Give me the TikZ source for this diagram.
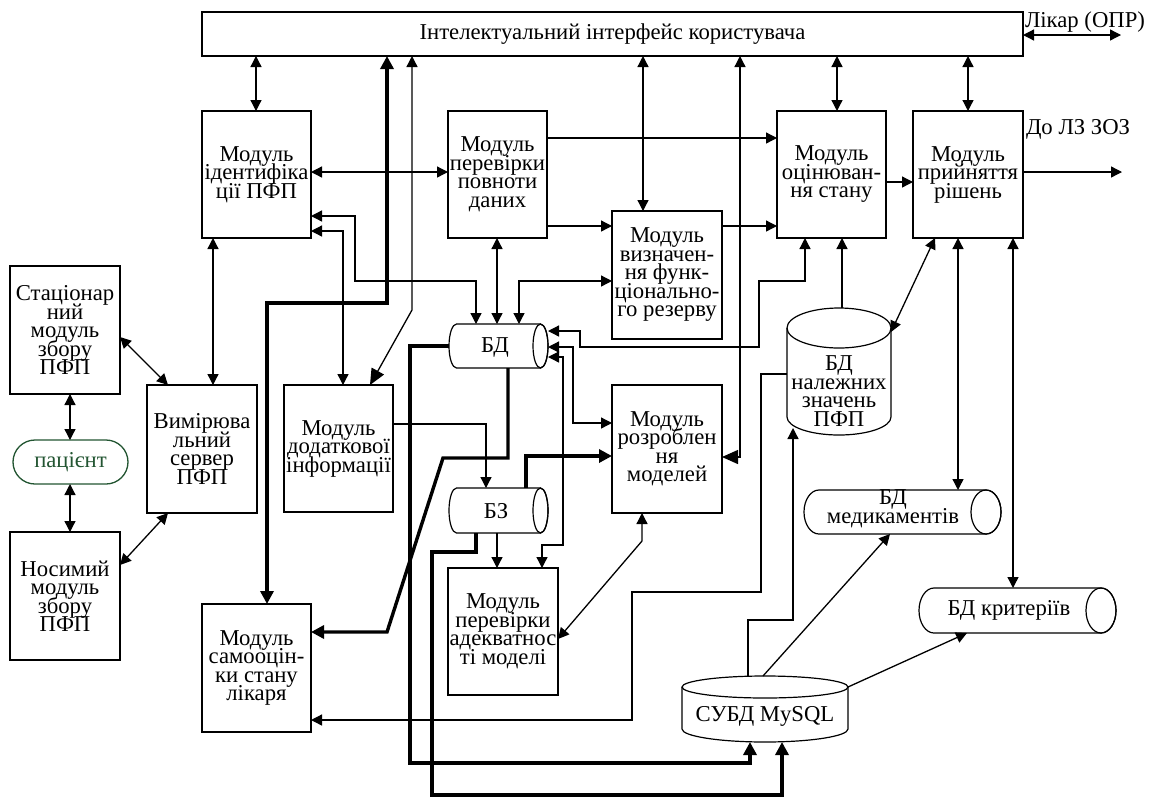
\documentclass[tikz,border=0pt]{standalone}
\usepackage{fontspec}
\setmainfont{Liberation Serif}
\usetikzlibrary{arrows.meta}
\definecolor{pgreen}{RGB}{35,85,50}
\newcommand\dfont{\fontsize{22.7pt}{18.5pt}\selectfont\lineskiplimit=-30pt\lineskip=0pt\relax}
\tikzset{
  box/.style={draw, line width=1.3pt, minimum width=110pt, minimum height=127pt, inner sep=0pt, outer sep=0pt, align=center, font=\dfont},
  shp/.style={draw=none, inner sep=0pt, outer sep=0pt},
  txt/.style={inner sep=0pt, outer sep=0pt, align=center, font=\dfont},
  ln/.style={line width=1.3pt},
  tk/.style={line width=3.4pt},
  cyl/.style={line width=1.2pt},
  arr/.style={-{Triangle[length=11pt,width=11pt]}},
  darr/.style={{Triangle[length=11pt,width=11pt]}-{Triangle[length=11pt,width=11pt]}},
  bigdarr/.style={{Triangle[length=11pt,width=11pt]}-{Triangle[length=16pt,width=14pt]}},
  tarr/.style={-{Triangle[length=13pt,width=13pt]}},
  tdarr/.style={{Triangle[length=13pt,width=13pt]}-{Triangle[length=13pt,width=13pt]}},
}
% horizontal cylinder: node, end radius, half height
\newcommand\hcyl[3]{%
  \draw[cyl] ([xshift=#2pt]#1.north west) -- ([xshift=-#2pt]#1.north east)
    arc[start angle=90,end angle=-90,x radius=#2pt,y radius=#3pt]
    -- ([xshift=#2pt]#1.south west)
    arc[start angle=270,end angle=90,x radius=#2pt,y radius=#3pt] -- cycle;
  \draw[cyl] ([xshift=-#2pt]#1.east) ellipse[x radius=#2pt,y radius=#3pt];}
% vertical cylinder: node, half width, top ry, bottom ry
\newcommand\vcyl[4]{%
  \draw[cyl] ([yshift=-#3pt]#1.north) ellipse[x radius=#2pt,y radius=#3pt];
  \draw[cyl] ([yshift=-#3pt]#1.north west) -- ([yshift=#4pt]#1.south west)
    arc[start angle=180,end angle=360,x radius=#2pt,y radius=#4pt]
    -- ([yshift=-#3pt]#1.north east);}
\begin{document}
\begin{tikzpicture}[x=1pt,y=-1pt]
\fill[white] (0,0) rectangle (1151,796);
\useasboundingbox (0,0) rectangle (1151,796);

% boxes
\node[box, minimum width=821pt, minimum height=44pt] (top) at (612.5,34) {Інтелектуальний інтерфейс користувача};
\node[box, minimum width=109pt] (ident) at (256.5,174.5) {Модуль\\ідентифіка\\ції ПФП};
\node[box, minimum width=99pt] (perev) at (497.5,174.5) {Модуль\\перевірки\\повноти\\даних};
\node[box, minimum height=128pt] (vyzn) at (667,275) {Модуль\\визначен-\\ня функ-\\ціонально-\\го резерву};
\node[box, minimum width=109pt] (otsin) at (831.5,174.5) {Модуль\\оцінюван-\\ня стану};
\node[box] (pryin) at (968,174.5) {Модуль\\прийняття\\рішень};
\node[box, minimum height=128pt] (stats) at (65,330) {Стаціонар\\ний\\модуль\\збору\\ПФП};
\node[box, draw=pgreen, text=pgreen, minimum width=115pt, minimum height=44pt, rounded corners=22pt] (patient) at (70.5,462) {пацієнт};
\node[box, minimum height=128pt] (nosym) at (65,596) {Носимий\\модуль\\збору\\ПФП};
\node[box, minimum height=128pt] (vymir) at (202,449) {Вимірюва\\льний\\сервер\\ПФП};
\node[box, minimum width=109pt] (dodat) at (338.5,448.5) {Модуль\\додаткової\\інформації};
\node[box, minimum width=109pt, minimum height=128pt] (samoots) at (256.5,668) {Модуль\\самооцін-\\ки стану\\лікаря};
\node[box] (adekv) at (503,631.5) {Модуль\\перевірки\\адекватнос\\ті моделі};
\node[box, minimum height=128pt] (rozrob) at (667,449) {Модуль\\розроблен\\ня\\моделей};

% cylinders
\node[shp, minimum width=99pt, minimum height=44pt] (bd) at (498.5,346) {};
\hcyl{bd}{7.5}{22}
\node[txt] (bdt) at (495,347) {БД};
\node[shp, minimum width=99pt, minimum height=45pt] (bz) at (498.5,510.5) {};
\hcyl{bz}{7.5}{22.5}
\node[txt] (bzt) at (496,511) {БЗ};
\node[shp, minimum width=197pt, minimum height=44pt] (bdmed) at (902.5,512) {};
\hcyl{bdmed}{15}{22}
\node[txt] (bdmedt) at (893,509) {БД\\медикаментів};
\node[shp, minimum width=197pt, minimum height=45pt] (bdkryt) at (1017.5,610.5) {};
\hcyl{bdkryt}{15}{22.5}
\node[txt] (bdkrytt) at (1009,610) {БД критеріїв};
\node[shp, minimum width=104pt, minimum height=127pt] (bdnal) at (839,371.5) {};
\vcyl{bdnal}{52}{20}{18}
\node[txt] (bdnalt) at (839,391) {БД\\належних\\значень\\ПФП};
\node[shp, minimum width=166pt, minimum height=66pt] (subd) at (765,709) {};
\vcyl{subd}{83}{11}{13}
\node[txt] (subdt) at (765,716) {СУБД MySQL};

% outside labels
\node[txt, anchor=west] (likart) at (1025,22) {Лікар (ОПР)};
\node[txt, anchor=west] (zozt) at (1026,129) {До ЛЗ ЗОЗ};
\coordinate (likar) at (1121,35);
\coordinate (zoz) at (1122,172);

% connectors
\draw[ln,darr] (256,0 |- top.south) -- (256,0 |- ident.north);
\draw[ln,darr] (643,0 |- top.south) -- (643,0 |- vyzn.north);
\draw[ln,darr] (837,0 |- top.south) -- (837,0 |- otsin.north);
\draw[ln,darr] (968,0 |- top.south) -- (968,0 |- pryin.north);
\draw[ln,bigdarr] (740,0 |- top.south) -- (740,457) -- (rozrob.east |- 0,457);
\draw[tk,tdarr] (387,0 |- top.south) -- (387,303) -- (267,303) -- (267,0 |- samoots.north);
\draw[ln,bigdarr] (412,0 |- top.south) -- (412,310) -- (370,0 |- dodat.north);
\draw[ln,darr] (top.east |- likar) -- (likar);
\draw[ln,darr] (ident.east |- 0,172) -- (perev.west |- 0,172);
\draw[ln,darr] (ident.east |- 0,216) -- (355,216) -- (355,281) -- (476,281) -- (476,0 |- bd.north);
\draw[ln,darr] (ident.east |- 0,231) -- (343,231) -- (343,0 |- dodat.north);
\draw[ln,darr] (213,0 |- ident.south) -- (213,0 |- vymir.north);
\draw[ln,arr] (perev.east |- 0,138) -- (otsin.west |- 0,138);
\draw[ln,arr] (perev.east |- 0,226) -- (vyzn.west |- 0,226);
\draw[ln,darr] (497,0 |- perev.south) -- (497,0 |- bd.north);
\draw[ln,darr] (vyzn.west |- 0,281) -- (519,281) -- (519,0 |- bd.north);
\draw[ln,arr] (vyzn.east |- 0,226) -- (otsin.west |- 0,226);
\draw[ln,arr] (otsin.east |- 0,182) -- (pryin.west |- 0,182);
\draw[ln,arr] (pryin.east |- zoz) -- (zoz);
\draw[ln,darr] (805,0 |- otsin.south) -- (805,281) -- (759,281) -- (759,347) -- (580,347) -- (580,331) -- (bd.east |- 0,331);
\draw[ln,arr] (842,0 |- bdnal.north) -- (842,0 |- otsin.south);
\draw[ln,darr] (bd.east |- 0,347) -- (573,347) -- (573,423) -- (rozrob.west |- 0,423);
\draw[ln,darr] (bd.east |- 0,357) -- (563,357) -- (563,545) -- (542,545) -- (542,0 |- adekv.north);
\draw[tk,tarr] (bd.west) -- (410,346) -- (410,763) -- (750,763) -- (750,0 |- subd.south);
\draw[tk,tarr] (508,0 |- bd.south) -- (508,458) -- (443,458) -- (387,632) -- (samoots.east |- 0,632);
\draw[ln,arr] (dodat.east |- 0,424) -- (486,424) -- (486,0 |- bz.north);
\draw[tk,tarr] (526,0 |- bz.north) -- (526,456) -- (rozrob.west |- 0,456);
\draw[tk,tarr] (476,0 |- bz.south) -- (476,552) -- (432,552) -- (432,795) -- (782,795) -- (782,0 |- subd.south);
\draw[ln,arr] (497,0 |- bz.south) -- (497,0 |- adekv.north);
\draw[ln,darr] (adekv.east |- 0,639) -- (642,541) -- (642,0 |- rozrob.south);
\draw[ln,arr] (bdnal.west |- 0,374) -- (761,374) -- (761,592) -- (632,592) -- (632,720) -- (samoots.east |- 0,720);
\draw[ln,arr] (748,0 |- subd.north) -- (748,620) -- (793,620) -- (793,428);
\draw[ln,arr] (763,0 |- subd.north) -- (890,0 |- bdmed.south);
\draw[ln,arr] (subd.east |- 0,687) -- (967,0 |- bdkryt.south);
\draw[ln,darr] (958,0 |- pryin.south) -- (958,0 |- bdmed.north);
\draw[ln,darr] (1013,0 |- pryin.south) -- (1013,0 |- bdkryt.north);
\draw[ln,darr] (935,0 |- pryin.south) -- (bdnal.east |- 0,332);
\draw[ln,darr] (70,0 |- stats.south) -- (70,0 |- patient.north);
\draw[ln,darr] (70,0 |- patient.south) -- (70,0 |- nosym.north);
\draw[ln,darr] (stats.east |- 0,337) -- (168,0 |- vymir.north);
\draw[ln,darr] (nosym.east |- 0,565) -- (168,0 |- vymir.south);
\end{tikzpicture}
\end{document}
